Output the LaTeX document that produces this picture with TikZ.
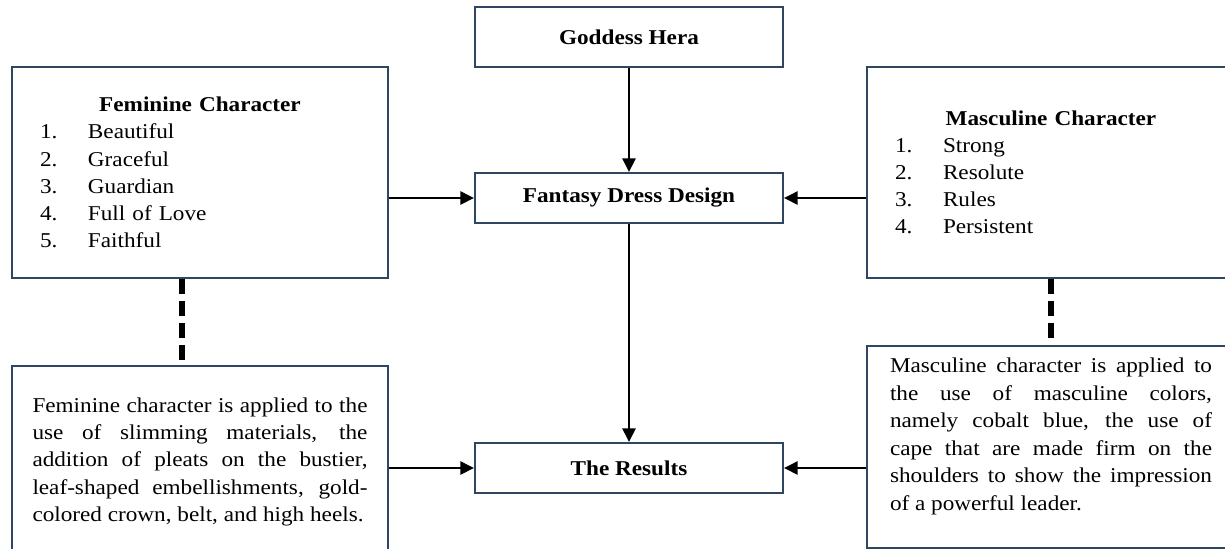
\documentclass[tikz,border=0pt]{standalone}
\usepackage{fontspec}
\setmainfont[FakeStretch=1.1]{Liberation Serif}
\usepackage{tikz}
\usetikzlibrary{arrows.meta,shapes,positioning}
\definecolor{boxline}{RGB}{47,69,98}

\begin{document}
\begin{tikzpicture}
	\useasboundingbox (0,0) rectangle (30.625,-13.7);
	\clip (0,0) rectangle (30.625,-13.7);

	\tikzstyle{block} = [draw=boxline,line width=1.5pt,rectangle,fill=white,font=\fontsize{15}{19.3}\selectfont]
	\tikzstyle{title} = [block,minimum width=7.7cm,font=\fontsize{15}{19.3}\selectfont\bfseries]
	\tikzstyle{list} = [block,minimum width=9.4cm,minimum height=5.275cm,text width=8cm,inner xsep=0.7cm,align=left]
	\tikzstyle{desc} = [block,anchor=north,align=justify]
	\tikzstyle{edge} = [line width=1.4pt,-{Triangle[length=0.34cm,width=0.33cm]}]
	\tikzstyle{link} = [line width=3.6pt,dash pattern=on 0.38cm off 0.17cm]

	% middle column
	\node[title,minimum height=1.5cm](hera) at (15.725,-0.925) {Goddess Hera};
	\node[title,minimum height=1.25cm](design) at (15.725,-4.95) {Fantasy Dress Design};
	\node[title,minimum height=1.25cm](results) at (15.725,-11.7) {The Results};

	% character lists
	\node[list](fem) at (5,-4.3125) {\makebox[\linewidth]{\bfseries Feminine Character}\\
		\makebox[1.2cm][l]{1.}Beautiful\\
		\makebox[1.2cm][l]{2.}Graceful\\
		\makebox[1.2cm][l]{3.}Guardian\\
		\makebox[1.2cm][l]{4.}Full of Love\\
		\makebox[1.2cm][l]{5.}Faithful};
	\node[list,minimum width=9.2cm,text width=7.8cm](masc) at (26.275,-4.3125) {\makebox[\linewidth]{\bfseries Masculine Character}\\
		\makebox[1.2cm][l]{1.}Strong\\
		\makebox[1.2cm][l]{2.}Resolute\\
		\makebox[1.2cm][l]{3.}Rules\\
		\makebox[1.2cm][l]{4.}Persistent};

	% descriptions
	\node[desc,text width=8.375cm,minimum width=9.4cm,inner xsep=0.5125cm,inner ysep=0.8cm](femText) at (5,-9.125) {Feminine character is applied to the\linebreak
		use of slimming materials, the\linebreak
		addition of pleats on the bustier,\linebreak
		leaf-shaped embellishments, gold-\linebreak
		colored crown, belt, and high heels.};
	\node[desc,font=\fontsize{15}{19.6}\selectfont,text width=8.05cm,minimum width=9.2cm,inner xsep=0.575cm,inner ysep=0.3cm,text depth=4.08cm](mascText) at (26.275,-8.625) {Masculine character is applied to\linebreak
		the use of masculine colors,\linebreak
		namely cobalt blue, the use of\linebreak
		cape that are made firm on the\linebreak
		shoulders to show the impression\linebreak
		of a powerful leader.};

	\draw[link] ([xshift=-0.45cm]fem.south) -- ([xshift=-0.45cm]femText.north);
	\draw[link] (masc.south) -- (mascText.north);

	\draw[edge] (hera) -- (design);
	\draw[edge] (design) -- (results);
	\draw[edge] (fem.east |- design.west) -- (design.west);
	\draw[edge] (masc.west |- design.east) -- (design.east);
	\draw[edge] (femText.east |- results.west) -- (results.west);
	\draw[edge] (mascText.west |- results.east) -- (results.east);
\end{tikzpicture}
\end{document}
